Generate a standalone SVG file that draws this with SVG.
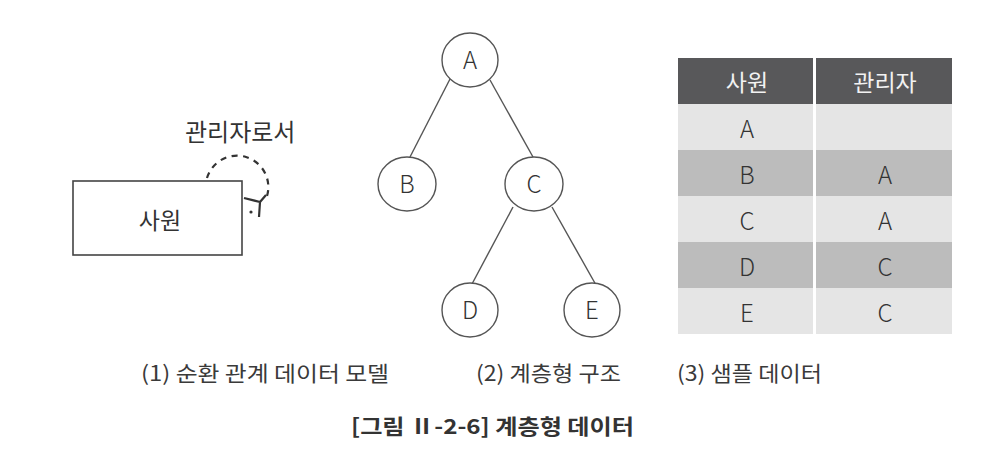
<svg xmlns="http://www.w3.org/2000/svg" width="984" height="461" viewBox="0 0 984 461">
<style>
text{font-family:"Noto Sans CJK KR","Noto Sans",sans-serif;fill:#333;}
.lbl{font-size:24px;text-anchor:middle;font-weight:300;}
.ko{font-size:23px;text-anchor:middle;}
.node ellipse{fill:#fff;stroke:#555;stroke-width:1.4;}
.edge{stroke:#555;stroke-width:1.4;fill:none;}
.hd{fill:#58585a;}
.lt{fill:#e5e5e5;}
.dk{fill:#bcbcbc;}
.hdt{fill:#f2f2f2;font-size:23px;text-anchor:middle;}
.cap{font-size:21px;fill:#3a3a3a;}
.title{font-size:21px;font-weight:bold;}
</style>
<rect width="984" height="461" fill="#fff"/>

<!-- (1) recursive relationship model -->
<g id="entity-employee">
  <rect x="73" y="181" width="169" height="74" fill="#fff" stroke="#444" stroke-width="1.6"/>
  <text class="ko" x="160" y="229">사원</text>
</g>
<g id="self-relation">
  <path d="M207,178 A31,31 0 1 1 267,196" fill="none" stroke="#333" stroke-width="2.2" stroke-dasharray="6,5.5"/>
  <path d="M244,198 L260,202 M260,202 L266,195 M260,202 L259,217" fill="none" stroke="#333" stroke-width="2.2"/>
  <circle cx="251" cy="212" r="1.6" fill="#333"/>
  <text x="185" y="141" font-size="24">관리자로서</text>
</g>

<!-- (2) hierarchy tree -->
<g id="connectors">
  <line class="edge" x1="450" y1="79" x2="410" y2="157"/>
  <line class="edge" x1="490" y1="80" x2="533" y2="157"/>
  <line class="edge" x1="513" y1="207" x2="472" y2="284"/>
  <line class="edge" x1="552" y1="207" x2="596" y2="285"/>
</g>
<g id="node-A" class="node"><ellipse cx="470" cy="60" rx="28" ry="27"/><text class="lbl" x="470" y="69">A</text></g>
<g id="node-B" class="node"><ellipse cx="407" cy="184" rx="29" ry="27"/><text class="lbl" x="407" y="193">B</text></g>
<g id="node-C" class="node"><ellipse cx="534" cy="184" rx="29" ry="27"/><text class="lbl" x="534" y="193">C</text></g>
<g id="node-D" class="node"><ellipse cx="470" cy="310" rx="28" ry="27"/><text class="lbl" x="470" y="319">D</text></g>
<g id="node-E" class="node"><ellipse cx="592" cy="310" rx="28" ry="27"/><text class="lbl" x="592" y="319">E</text></g>

<!-- (3) sample data table -->
<g id="table">
  <rect class="hd" x="678" y="58" width="135" height="46"/>
  <rect class="hd" x="816" y="58" width="136" height="46"/>
  <rect class="lt" x="678" y="104" width="135" height="46"/>
  <rect class="lt" x="816" y="104" width="136" height="46"/>
  <rect class="dk" x="678" y="150" width="135" height="46"/>
  <rect class="dk" x="816" y="150" width="136" height="46"/>
  <rect class="lt" x="678" y="196" width="135" height="46"/>
  <rect class="lt" x="816" y="196" width="136" height="46"/>
  <rect class="dk" x="678" y="242" width="135" height="46"/>
  <rect class="dk" x="816" y="242" width="136" height="46"/>
  <rect class="lt" x="678" y="288" width="135" height="46"/>
  <rect class="lt" x="816" y="288" width="136" height="46"/>
  <text class="hdt" x="747" y="91">사원</text>
  <text class="hdt" x="885" y="91">관리자</text>
  <text class="lbl" x="747" y="138">A</text>
  <text class="lbl" x="747" y="184">B</text>
  <text class="lbl" x="885" y="184">A</text>
  <text class="lbl" x="747" y="230">C</text>
  <text class="lbl" x="885" y="230">A</text>
  <text class="lbl" x="747" y="276">D</text>
  <text class="lbl" x="885" y="276">C</text>
  <text class="lbl" x="747" y="322">E</text>
  <text class="lbl" x="885" y="322">C</text>
</g>

<!-- captions -->
<g id="captions">
  <text class="cap" x="141" y="381" textLength="248" lengthAdjust="spacingAndGlyphs">(1) 순환 관계 데이터 모델</text>
  <text class="cap" x="476" y="381" textLength="145" lengthAdjust="spacingAndGlyphs">(2) 계층형 구조</text>
  <text class="cap" x="677" y="381" textLength="145" lengthAdjust="spacingAndGlyphs">(3) 샘플 데이터</text>
  <text class="title" x="351" y="434" textLength="283" lengthAdjust="spacingAndGlyphs">[그림 Ⅱ-2-6] 계층형 데이터</text>
</g>
</svg>
